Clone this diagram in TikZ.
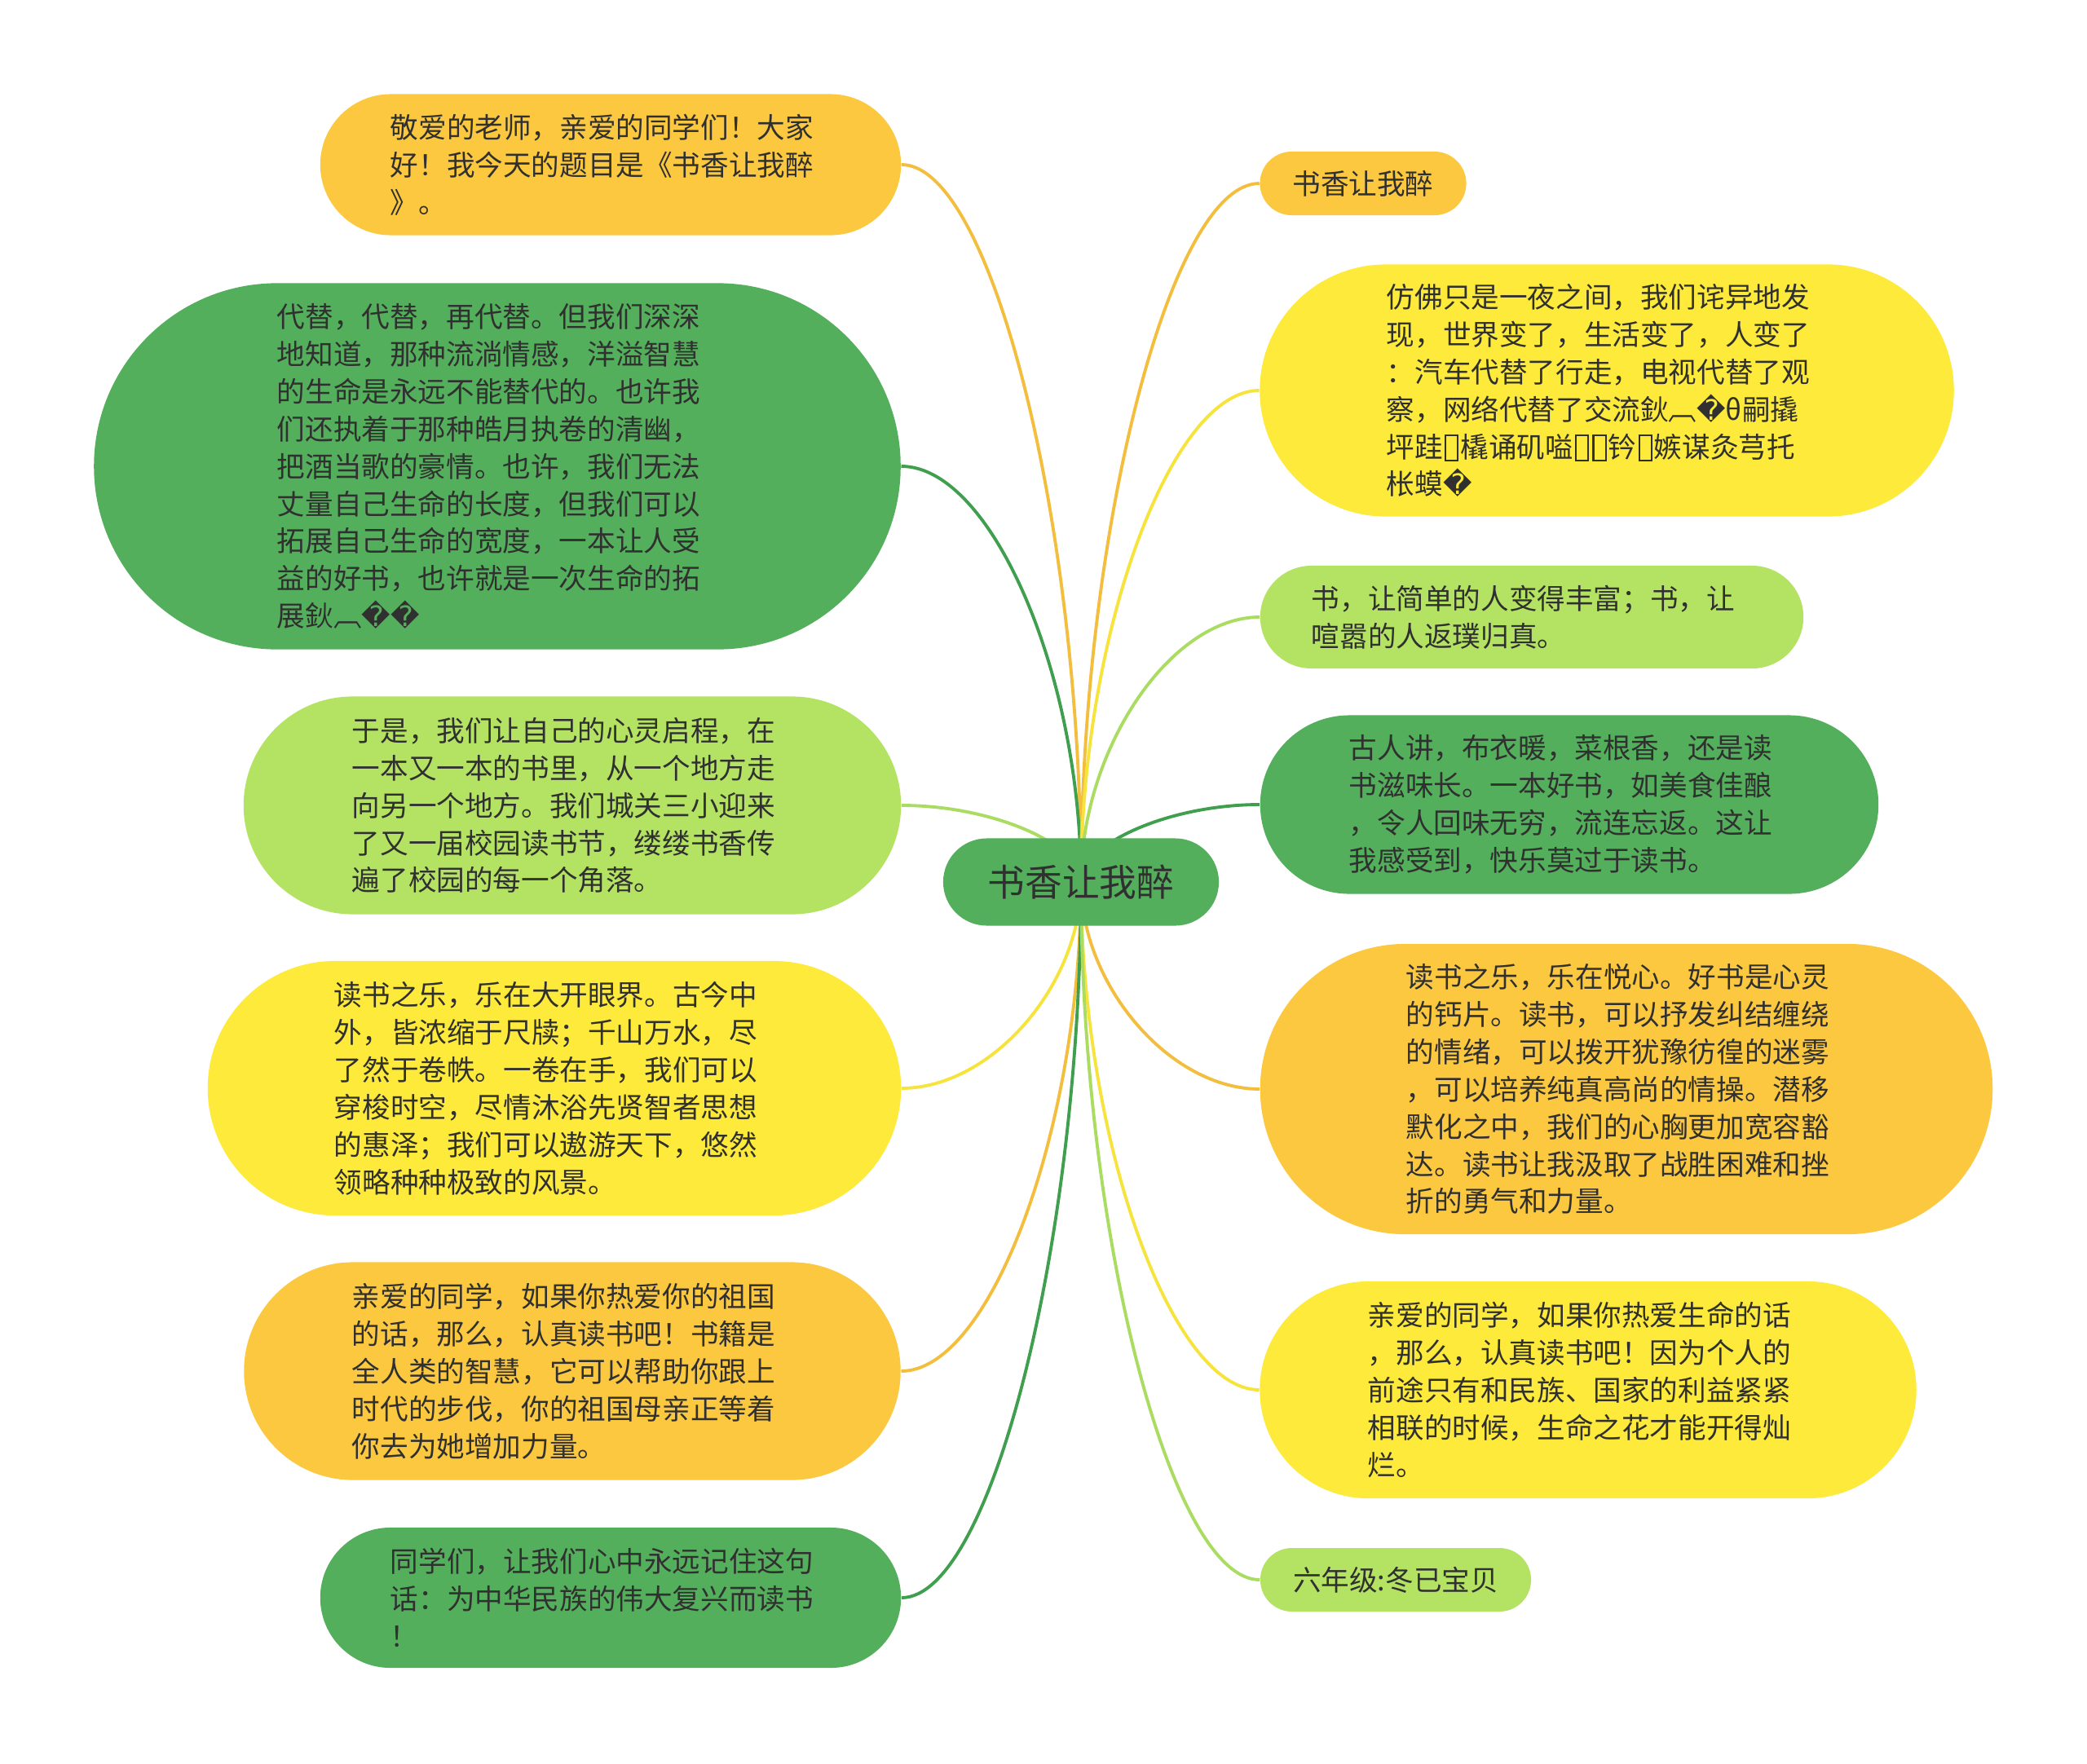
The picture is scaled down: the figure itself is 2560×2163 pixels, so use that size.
\documentclass[tikz,border=0pt]{standalone}
\usepackage{fontspec}
\setmainfont{Noto Sans CJK SC}
\newfontfamily\dejavu{DejaVu Sans}
\usetikzlibrary{shapes.misc,calc,backgrounds}

\definecolor{boxorange}{HTML}{FBC83F}
\definecolor{boxyellow}{HTML}{FDEA3A}
\definecolor{boxgreen}{HTML}{53AF5B}
\definecolor{boxlime}{HTML}{B4E364}
\definecolor{lineorange}{HTML}{F3BE3E}
\definecolor{lineyellow}{HTML}{F6E33C}
\definecolor{linegreen}{HTML}{3F9F4E}
\definecolor{linelime}{HTML}{A9DC60}
\definecolor{txt}{HTML}{303030}

% garbled glyphs as printed
\newcommand{\qmark}{{\dejavu\symbol{"FFFD}}}
\newcommand{\tofu}{{\kern0.06em\setlength{\fboxrule}{0.06em}\setlength{\fboxsep}{0pt}\raisebox{-0.08em}{\fbox{\rule{0.38em}{0pt}\rule{0pt}{0.84em}}}\kern0.06em}}

\tikzset{
  topic/.style={rounded rectangle, inner sep=0pt, text=txt, align=left,
    font=\fontsize{9.84pt}{13.06pt}\selectfont},
  para/.style={text width=5.4cm},
  orangebox/.style={topic, fill=boxorange},
  yellowbox/.style={topic, fill=boxyellow},
  greenbox/.style={topic, fill=boxgreen},
  limebox/.style={topic, fill=boxlime},
  link/.style={line width=1.1pt}
}

\begin{document}
\begin{tikzpicture}[x=0.01cm, y=-0.01cm]
    \useasboundingbox (0,0) rectangle (2560,2163);

    % root
    \node[greenbox, minimum width=3.38cm, minimum height=1.07cm,
          font=\fontsize{13pt}{15pt}\selectfont] (c) at (1326,1082) {书香让我醉};

    % left side
    \node[orangebox, para, minimum width=7.12cm, minimum height=1.73cm] (l1) at (749,202) {敬爱的老师，亲爱的同学们！大家\\好！我今天的题目是《书香让我醉\\》。};
    \node[greenbox, para, minimum width=9.89cm, minimum height=4.49cm] (l2) at (610,572) {代替，代替，再代替。但我们深深\\地知道，那种流淌情感，洋溢智慧\\的生命是永远不能替代的。也许我\\们还执着于那种皓月执卷的清幽，\\把酒当歌的豪情。也许，我们无法\\丈量自己生命的长度，但我们可以\\拓展自己生命的宽度，一本让人受\\益的好书，也许就是一次生命的拓\\展鈥︹\qmark\qmark};
    \node[limebox, para, minimum width=8.06cm, minimum height=2.67cm] (l3) at (702,988) {于是，我们让自己的心灵启程，在\\一本又一本的书里，从一个地方走\\向另一个地方。我们城关三小迎来\\了又一届校园读书节，缕缕书香传\\遍了校园的每一个角落。};
    \node[yellowbox, para, minimum width=8.50cm, minimum height=3.12cm] (l4) at (680,1335) {读书之乐，乐在大开眼界。古今中\\外，皆浓缩于尺牍；千山万水，尽\\了然于卷帙。一卷在手，我们可以\\穿梭时空，尽情沐浴先贤智者思想\\的惠泽；我们可以遨游天下，悠然\\领略种种极致的风景。};
    \node[orangebox, para, minimum width=8.05cm, minimum height=2.67cm] (l5) at (702,1682) {亲爱的同学，如果你热爱你的祖国\\的话，那么，认真读书吧！书籍是\\全人类的智慧，它可以帮助你跟上\\时代的步伐，你的祖国母亲正等着\\你去为她增加力量。};
    \node[greenbox, para, minimum width=7.12cm, minimum height=1.72cm] (l6) at (749,1960) {同学们，让我们心中永远记住这句\\话：为中华民族的伟大复兴而读书\\！};

    % right side
    \node[orangebox, minimum width=2.53cm, minimum height=0.78cm] (r1) at (1672,225) {书香让我醉};
    \node[yellowbox, para, minimum width=8.51cm, minimum height=3.09cm] (r2) at (1971,479) {仿佛只是一夜之间，我们诧异地发\\现，世界变了，生活变了，人变了\\：汽车代替了行走，电视代替了观\\察，网络代替了交流鈥︹\qmark θ嗣撬\\坪跬\tofu 橇诵矶嗌\tofu\tofu 钤\tofu 嫉谋灸芎托\\枨蟆\qmark};
    \node[limebox, para, minimum width=6.66cm, minimum height=1.26cm] (r3) at (1879,757) {书，让简单的人变得丰富；书，让\\喧嚣的人返璞归真。};
    \node[greenbox, para, minimum width=7.58cm, minimum height=2.19cm] (r4) at (1925,987) {古人讲，布衣暖，菜根香，还是读\\书滋味长。一本好书，如美食佳酿\\，令人回味无穷，流连忘返。这让\\我感受到，快乐莫过于读书。};
    \node[orangebox, para, minimum width=8.98cm, minimum height=3.56cm] (r5) at (1995,1336) {读书之乐，乐在悦心。好书是心灵\\的钙片。读书，可以抒发纠结缠绕\\的情绪，可以拨开犹豫彷徨的迷雾\\，可以培养纯真高尚的情操。潜移\\默化之中，我们的心胸更加宽容豁\\达。读书让我汲取了战胜困难和挫\\折的勇气和力量。};
    \node[yellowbox, para, minimum width=8.05cm, minimum height=2.66cm] (r6) at (1948,1705) {亲爱的同学，如果你热爱生命的话\\，那么，认真读书吧！因为个人的\\前途只有和民族、国家的利益紧紧\\相联的时候，生命之花才能开得灿\\烂。};
    \node[limebox, minimum width=3.32cm, minimum height=0.78cm] (r7) at (1712,1938) {六年级:冬已宝贝};

    % connectors behind the boxes
    \begin{scope}[on background layer]
        \fill[white] (0,0) rectangle (2560,2163);
        \foreach \n/\a/\col in {l1/east/lineorange, l2/east/linegreen, l3/east/linelime,
                l4/east/lineyellow, l5/east/lineorange, l6/east/linegreen,
                r1/west/lineorange, r2/west/lineyellow, r3/west/linelime, r4/west/linegreen,
                r5/west/lineorange, r6/west/lineyellow, r7/west/linelime}
            \draw[link, \col] (c.center) .. controls ($(c.center)!.5!(c.center |- \n.\a)$)
                and ($(\n.\a)!.5!(c.center |- \n.\a)$) .. (\n.\a);
    \end{scope}
\end{tikzpicture}
\end{document}
